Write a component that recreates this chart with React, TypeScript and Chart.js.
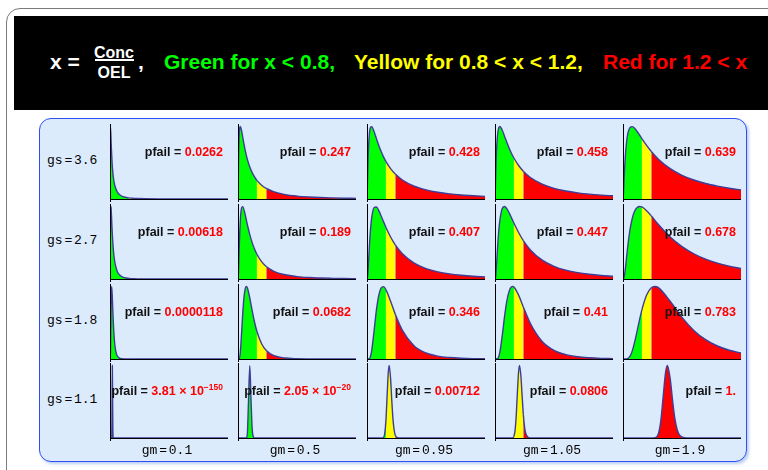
import React, { useEffect, useRef } from 'react';
import { Chart, registerables } from 'chart.js';

Chart.register(...registerables);

type Pt = [number, number];

// ---- labels ----
const gmLabels = ['0.1', '0.5', '0.95', '1.05', '1.9'];
const gsLabels = ['3.6', '2.7', '1.8', '1.1'];

// pfail values per gs row (mantissa text and optional power-of-ten exponent)
const pfailGs36 = ['0.0262', '0.247', '0.428', '0.458', '0.639'];
const pfailGs27 = ['0.00618', '0.189', '0.407', '0.447', '0.678'];
const pfailGs18 = ['0.0000118', '0.0682', '0.346', '0.41', '0.783'];
const pfailGs11 = ['3.81', '2.05', '0.00712', '0.0806', '1.'];
const pfailExpGs11 = ['\u2212150', '\u221220', '', '', ''];

// zone limits on x = Conc / OEL
const greenLimit = 0.8;
const yellowLimit = 1.2;

// ---- density curves (height relative to each panel's peak) ----
const xGrid = [0, 0.02, 0.05, 0.1, 0.15, 0.2, 0.3, 0.4, 0.5, 0.6, 0.7, 0.8, 1.0, 1.2, 1.5, 2.0, 2.5, 3.0, 3.5, 4.0, 4.5, 5.0];

const yGs36Gm05 = [0, 0.468, 0.875, 1.0, 0.943, 0.852, 0.678, 0.542, 0.44, 0.363, 0.304, 0.257, 0.19, 0.145, 0.102, 0.061, 0.04, 0.028, 0.02, 0.015, 0.011, 0.009];
const yGs36Gm095 = [0, 0.223, 0.596, 0.893, 0.987, 0.998, 0.93, 0.832, 0.738, 0.654, 0.581, 0.518, 0.418, 0.343, 0.262, 0.177, 0.126, 0.093, 0.071, 0.056, 0.045, 0.036];
const yGs36Gm105 = [0, 0.194, 0.549, 0.857, 0.972, 1.0, 0.955, 0.87, 0.782, 0.7, 0.628, 0.565, 0.462, 0.383, 0.296, 0.204, 0.147, 0.11, 0.085, 0.067, 0.054, 0.044];
const yGs36Gm19 = [0, 0.075, 0.297, 0.596, 0.782, 0.893, 0.987, 0.998, 0.972, 0.93, 0.882, 0.832, 0.738, 0.654, 0.548, 0.418, 0.327, 0.262, 0.213, 0.177, 0.148, 0.126];

const yGs27Gm05 = [0, 0.08, 0.416, 0.821, 0.976, 0.998, 0.892, 0.744, 0.611, 0.501, 0.412, 0.341, 0.24, 0.173, 0.11, 0.058, 0.033, 0.02, 0.013, 0.009, 0.006, 0.004];
const yGs27Gm095 = [0, 0.015, 0.143, 0.444, 0.688, 0.847, 0.986, 0.993, 0.942, 0.869, 0.791, 0.714, 0.579, 0.47, 0.348, 0.219, 0.144, 0.099, 0.07, 0.051, 0.038, 0.029];
const yGs27Gm105 = [0, 0.011, 0.117, 0.389, 0.627, 0.795, 0.965, 1.0, 0.97, 0.912, 0.843, 0.772, 0.641, 0.53, 0.401, 0.26, 0.175, 0.122, 0.088, 0.065, 0.049, 0.037];
const yGs27Gm19 = [0, 0.002, 0.028, 0.143, 0.295, 0.445, 0.688, 0.847, 0.94, 0.986, 1.0, 0.993, 0.942, 0.869, 0.752, 0.579, 0.447, 0.348, 0.274, 0.219, 0.177, 0.144];

const curveGs36Gm01: Pt[] = [[0, 0], [0.01, 0.875], [0.02, 1.0], [0.05, 0.761], [0.1, 0.44], [0.15, 0.279], [0.2, 0.19], [0.3, 0.102], [0.4, 0.061], [0.5, 0.04], [0.6, 0.028], [0.8, 0.015], [1.0, 0.009], [1.2, 0.006], [1.5, 0.003], [2.0, 0.001], [3.0, 0], [5.0, 0]];
const curveGs27Gm01: Pt[] = [[0, 0], [0.01, 0.416], [0.02, 0.821], [0.03, 0.976], [0.04, 1.0], [0.05, 0.957], [0.07, 0.818], [0.1, 0.611], [0.15, 0.375], [0.2, 0.239], [0.3, 0.11], [0.4, 0.058], [0.5, 0.033], [0.6, 0.02], [0.8, 0.009], [1.0, 0.004], [1.2, 0.002], [1.5, 0.001], [2.0, 0], [5.0, 0]];
const curveGs18Gm01: Pt[] = [[0, 0], [0.02, 0.099], [0.03, 0.344], [0.04, 0.624], [0.05, 0.84], [0.07, 1.0], [0.1, 0.841], [0.12, 0.668], [0.15, 0.442], [0.2, 0.21], [0.25, 0.1], [0.3, 0.049], [0.4, 0.013], [0.5, 0.004], [0.6, 0.001], [0.8, 0], [5.0, 0]];
const curveGs18Gm05: Pt[] = [[0, 0], [0.05, 0.004], [0.1, 0.099], [0.15, 0.344], [0.2, 0.624], [0.25, 0.839], [0.3, 0.961], [0.35, 1.0], [0.4, 0.979], [0.5, 0.841], [0.6, 0.668], [0.7, 0.51], [0.8, 0.382], [1.0, 0.21], [1.2, 0.116], [1.5, 0.049], [2.0, 0.013], [2.5, 0.004], [3.0, 0.001], [3.5, 0], [5.0, 0]];
const curveGs18Gm095: Pt[] = [[0, 0], [0.1, 0.005], [0.15, 0.039], [0.2, 0.119], [0.3, 0.389], [0.4, 0.677], [0.5, 0.881], [0.6, 0.981], [0.7, 0.998], [0.8, 0.957], [1.0, 0.796], [1.2, 0.615], [1.5, 0.394], [2.0, 0.179], [2.5, 0.083], [3.0, 0.039], [3.5, 0.02], [4.0, 0.01], [4.5, 0.005], [5.0, 0.003]];
const curveGs18Gm105: Pt[] = [[0, 0], [0.1, 0.003], [0.15, 0.025], [0.2, 0.083], [0.3, 0.304], [0.4, 0.574], [0.5, 0.797], [0.6, 0.936], [0.7, 0.995], [0.75, 1.0], [0.8, 0.992], [1.0, 0.88], [1.2, 0.718], [1.5, 0.49], [2.0, 0.242], [2.5, 0.119], [3.0, 0.06], [3.5, 0.031], [4.0, 0.017], [4.5, 0.009], [5.0, 0.005]];
const curveGs18Gm19: Pt[] = [[0, 0], [0.15, 0.001], [0.2, 0.005], [0.3, 0.039], [0.4, 0.119], [0.5, 0.242], [0.6, 0.389], [0.7, 0.539], [0.8, 0.677], [1.0, 0.881], [1.2, 0.981], [1.35, 1.0], [1.5, 0.983], [2.0, 0.796], [2.5, 0.573], [3.0, 0.394], [3.5, 0.266], [4.0, 0.179], [4.5, 0.121], [5.0, 0.083]];

const curveGs11Gm01: Pt[] = [[0, 0], [0.06, 0], [0.075, 0.014], [0.085, 0.273], [0.099, 1.0], [0.11, 0.549], [0.12, 0.133], [0.135, 0.005], [0.15, 0], [5.0, 0]];
const curveGs11Gm05: Pt[] = [[0, 0], [0.33, 0], [0.36, 0.004], [0.4, 0.08], [0.44, 0.46], [0.5, 0.995], [0.55, 0.549], [0.6, 0.133], [0.65, 0.017], [0.7, 0.001], [0.75, 0], [5.0, 0]];
const curveGs11Gm095: Pt[] = [[0, 0], [0.6, 0], [0.65, 0.001], [0.7, 0.008], [0.75, 0.058], [0.8, 0.233], [0.85, 0.563], [0.9, 0.895], [0.94, 1.0], [1.0, 0.818], [1.05, 0.519], [1.1, 0.263], [1.15, 0.11], [1.2, 0.039], [1.3, 0.003], [1.4, 0], [5.0, 0]];
const curveGs11Gm105: Pt[] = [[0, 0], [0.7, 0], [0.75, 0.003], [0.8, 0.022], [0.85, 0.105], [0.9, 0.314], [0.95, 0.634], [1.0, 0.917], [1.04, 1.0], [1.1, 0.843], [1.15, 0.576], [1.2, 0.327], [1.25, 0.157], [1.3, 0.065], [1.4, 0.008], [1.5, 0.001], [1.6, 0], [5.0, 0]];
const curveGs11Gm19: Pt[] = [[0, 0], [1.2, 0], [1.3, 0.001], [1.4, 0.008], [1.5, 0.058], [1.6, 0.233], [1.7, 0.563], [1.8, 0.895], [1.88, 1.0], [2.0, 0.818], [2.1, 0.519], [2.2, 0.263], [2.3, 0.11], [2.4, 0.039], [2.6, 0.003], [2.8, 0], [5.0, 0]];

const onGrid = (ys: number[]): Pt[] => xGrid.map((x, i) => [x, ys[i]] as Pt);

const curveRows: Pt[][][] = [
  [curveGs36Gm01, onGrid(yGs36Gm05), onGrid(yGs36Gm095), onGrid(yGs36Gm105), onGrid(yGs36Gm19)],
  [curveGs27Gm01, onGrid(yGs27Gm05), onGrid(yGs27Gm095), onGrid(yGs27Gm105), onGrid(yGs27Gm19)],
  [curveGs18Gm01, curveGs18Gm05, curveGs18Gm095, curveGs18Gm105, curveGs18Gm19],
  [curveGs11Gm01, curveGs11Gm05, curveGs11Gm095, curveGs11Gm105, curveGs11Gm19],
];
const pfailRows = [pfailGs36, pfailGs27, pfailGs18, pfailGs11];
const pfailExpRows = [['', '', '', '', ''], ['', '', '', '', ''], ['', '', '', '', ''], pfailExpGs11];

// ---- geometry ----
const colLeft = [110, 238, 367, 495, 623];
const rowBase = [199, 279, 359, 438];
const plotW = 118;
const plotH = 74;
const padL = 4, padR = 4, padT = 4, padB = 6;

const GREEN = '#00ff00';
const YELLOW = '#ffff00';
const RED = '#ff0000';
const CURVE = '#3d3d99';

const zoneColor = (x: number) => (x < greenLimit ? GREEN : x < yellowLimit ? YELLOW : RED);

const axesPlugin = {
  id: 'plotAxes',
  afterDatasetsDraw(chart: any) {
    const { ctx, chartArea } = chart;
    const { left, right, top, bottom } = chartArea;
    ctx.save();
    ctx.strokeStyle = '#000';
    ctx.lineWidth = 1;
    ctx.beginPath();
    ctx.moveTo(left, Math.round(bottom) + 0.5);
    ctx.lineTo(right, Math.round(bottom) + 0.5);
    ctx.moveTo(Math.round(left) + 0.5, bottom + 3);
    ctx.lineTo(Math.round(left) + 0.5, top - 1);
    ctx.stroke();
    ctx.restore();
  },
};

function DensityPanel({ points, x0, base }: { points: Pt[]; x0: number; base: number }) {
  const ref = useRef<HTMLCanvasElement>(null);
  const w = plotW + padL + padR;
  const h = plotH + padT + padB;
  useEffect(() => {
    if (!ref.current) return;
    const data = points.map(([x, y]) => ({ x, y }));
    const chart = new Chart(ref.current, {
      type: 'line',
      data: {
        datasets: [
          {
            data,
            borderColor: CURVE,
            borderWidth: 1.4,
            backgroundColor: GREEN,
            fill: 'origin',
            pointRadius: 0,
            pointHoverRadius: 0,
            cubicInterpolationMode: 'monotone',
            segment: {
              backgroundColor: (c: any) => zoneColor(points[c.p0DataIndex][0]),
            },
          } as any,
        ],
      },
      options: {
        responsive: false,
        animation: false,
        devicePixelRatio: 1,
        events: [],
        layout: { padding: { left: padL, right: padR, top: padT, bottom: padB } },
        scales: {
          x: { type: 'linear', min: 0, max: 5, display: false },
          y: { min: 0, max: 1.02, display: false },
        },
        plugins: { legend: { display: false }, tooltip: { enabled: false } },
      },
      plugins: [axesPlugin],
    });
    return () => chart.destroy();
  }, [points]);
  return (
    <canvas
      ref={ref}
      width={w}
      height={h}
      style={{ position: 'absolute', left: x0 - padL, top: base - plotH - padT, width: w, height: h }}
    />
  );
}

const headerFont = '"Liberation Sans", Arial, Helvetica, sans-serif';
const monoFont = '"Liberation Mono", "DejaVu Sans Mono", "Courier New", monospace';

export default function App() {
  const txt = (extra: React.CSSProperties): React.CSSProperties => ({
    position: 'absolute',
    fontFamily: headerFont,
    fontWeight: 'bold',
    whiteSpace: 'nowrap',
    lineHeight: 1,
    ...extra,
  });

  const labelStyle: React.CSSProperties = {
    position: 'absolute',
    fontFamily: monoFont,
    fontSize: 13,
    lineHeight: '14px',
    wordSpacing: -6,
    color: '#000',
    whiteSpace: 'nowrap',
  };

  return (
    <div style={{ position: 'absolute', left: 0, top: 0, width: 768, height: 470, overflow: 'hidden', background: '#fff' }}>
      {/* outer frame */}
      <div style={{ position: 'absolute', left: 6, top: 8, width: 820, height: 520, border: '1px solid #7a7a7a', borderRadius: 14 }} />
      {/* header band */}
      <div style={{ position: 'absolute', left: 14, top: 16, width: 780, height: 94, background: '#000' }} />
      <div style={txt({ left: 50, top: 51, fontSize: 21, color: '#fff' })}>x =</div>
      <div style={txt({ left: 94, width: 40, top: 45, fontSize: 16, color: '#fff', textAlign: 'center' })}>Conc</div>
      <div style={{ position: 'absolute', left: 95, top: 59, width: 39, height: 2, background: '#fff' }} />
      <div style={txt({ left: 94, width: 40, top: 65, fontSize: 16, color: '#fff', textAlign: 'center' })}>OEL</div>
      <div style={txt({ left: 138, top: 51, fontSize: 21, color: '#fff' })}>,</div>
      <div style={txt({ left: 164, top: 51, fontSize: 21, color: GREEN })}>Green for x &lt; 0.8,</div>
      <div style={txt({ left: 354, top: 51, fontSize: 21, color: YELLOW })}>Yellow for 0.8 &lt; x &lt; 1.2,</div>
      <div style={txt({ left: 603, top: 51, fontSize: 21, color: RED })}>Red for 1.2 &lt; x</div>

      {/* control panel */}
      <div
        style={{
          position: 'absolute',
          left: 39,
          top: 118,
          width: 706,
          height: 342,
          background: '#dcebfc',
          border: '1.5px solid #2f4ff0',
          borderRadius: 12,
          boxShadow: '2px 2px 3px rgba(120,160,230,0.5)',
        }}
      />

      {curveRows.map((row, r) =>
        row.map((pts, c) => (
          <DensityPanel key={`p${r}-${c}`} points={pts} x0={colLeft[c]} base={rowBase[r]} />
        ))
      )}

      {/* row labels */}
      {gsLabels.map((g, r) => (
        <div key={`gs${r}`} style={{ ...labelStyle, left: 47, top: rowBase[r] - 38 - 7 }}>
          {`gs = ${g}`}
        </div>
      ))}

      {/* column labels */}
      {gmLabels.map((g, c) => (
        <div
          key={`gm${c}`}
          style={{ ...labelStyle, left: colLeft[c] + 57 - 40, width: 80, top: 451 - 7, textAlign: 'center' }}
        >
          {`gm = ${g}`}
        </div>
      ))}

      {/* pfail annotations */}
      {pfailRows.map((row, r) =>
        row.map((v, c) => {
          const exp = pfailExpRows[r][c];
          return (
            <div
              key={`pf${r}-${c}`}
              style={{
                position: 'absolute',
                right: 768 - (colLeft[c] + 113),
                top: rowBase[r] - 47 - 7,
                fontFamily: headerFont,
                fontWeight: 'bold',
                fontSize: 12.5,
                lineHeight: '14px',
                whiteSpace: 'nowrap',
                color: '#111',
              }}
            >
              pfail = <span style={{ color: RED }}>
                {exp ? `${v} \u00d7 10` : v}
                {exp ? (
                  <span style={{ fontSize: 8.5, position: 'relative', top: -5 }}>{exp}</span>
                ) : null}
              </span>
            </div>
          );
        })
      )}
    </div>
  );
}
